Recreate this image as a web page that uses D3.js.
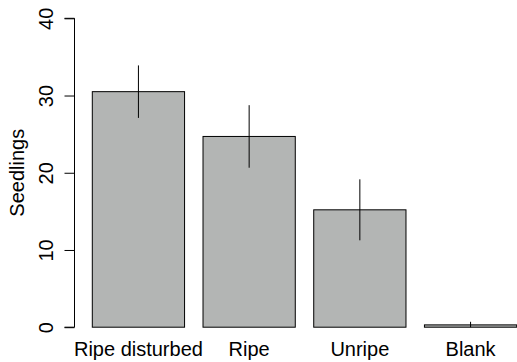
<!DOCTYPE html>
<html>
<head>
<meta charset="utf-8">
<script src="https://cdn.jsdelivr.net/npm/d3@7"></script>
<style>
  body { margin: 0; background: #fff; }
  text { font-family: "Liberation Sans", Arial, sans-serif; fill: #000; }
</style>
</head>
<body>
<div class="chart"></div>
<script>
// data
var categories = ["Ripe disturbed", "Ripe", "Unripe", "Blank"];
var seedlings = [30.5, 24.7, 15.2, 0.3];
var errors = [3.4, 4.05, 3.95, 0.4];
var yTicks = [0, 10, 20, 30, 40];

var W = 517, H = 362;

// R barplot style: width 1, space 0.2
var xScale = d3.scaleLinear()
    .domain([0.2, 4.8])
    .range([92.3, 516.7]);

var yScale = d3.scaleLinear()
    .domain([0, 40])
    .range([327.2, 18.3]);

var svg = d3.select(".chart").append("svg")
    .attr("width", W)
    .attr("height", H);

var barLeft = function(i) { return 0.2 + 1.2 * i; };

// bars
svg.selectAll(".bar")
    .data(seedlings)
  .enter().append("rect")
    .attr("class", "bar")
    .attr("x", function(d, i) { return xScale(barLeft(i)); })
    .attr("y", function(d) { return yScale(d); })
    .attr("width", function(d, i) { return xScale(barLeft(i) + 1) - xScale(barLeft(i)); })
    .attr("height", function(d) { return yScale(0) - yScale(d); })
    .attr("fill", "#b3b5b4")
    .attr("stroke", "#000")
    .attr("stroke-width", 1);

// error bars (no caps)
svg.selectAll(".err")
    .data(seedlings)
  .enter().append("line")
    .attr("class", "err")
    .attr("x1", function(d, i) { return xScale(barLeft(i) + 0.5); })
    .attr("x2", function(d, i) { return xScale(barLeft(i) + 0.5); })
    .attr("y1", function(d, i) { return yScale(d + errors[i]); })
    .attr("y2", function(d, i) { return yScale(Math.max(0, d - errors[i])); })
    .attr("stroke", "#000")
    .attr("stroke-width", 1);

// y axis
var yAxis = d3.axisLeft(yScale)
    .tickValues(yTicks)
    .tickSize(10)
    .tickFormat(d3.format("d"));

var gy = svg.append("g")
    .attr("transform", "translate(74.5,0)")
    .call(yAxis);
gy.select(".domain")
    .attr("d", "M-10," + yScale(0) + "H0V" + yScale(40) + "H-10")
    .attr("stroke", "#000");
gy.selectAll(".tick line").attr("stroke", "#000");
gy.selectAll(".tick text")
    .attr("x", null).attr("dy", null)
    .attr("text-anchor", "middle")
    .attr("transform", "translate(-21.5,0) rotate(-90)")
    .style("font-size", "20px")
    .style("font-family", "'Liberation Sans', Arial, sans-serif");

// y title
svg.append("text")
    .attr("transform", "translate(24," + (yScale(0) + yScale(40)) / 2 + ") rotate(-90)")
    .attr("text-anchor", "middle")
    .style("font-size", "20px")
    .text("Seedlings");

// category labels
svg.selectAll(".cat")
    .data(categories)
  .enter().append("text")
    .attr("class", "cat")
    .attr("x", function(d, i) { return xScale(barLeft(i) + 0.5); })
    .attr("y", 356)
    .attr("text-anchor", "middle")
    .style("font-size", "20px")
    .text(function(d) { return d; });
</script>
</body>
</html>
